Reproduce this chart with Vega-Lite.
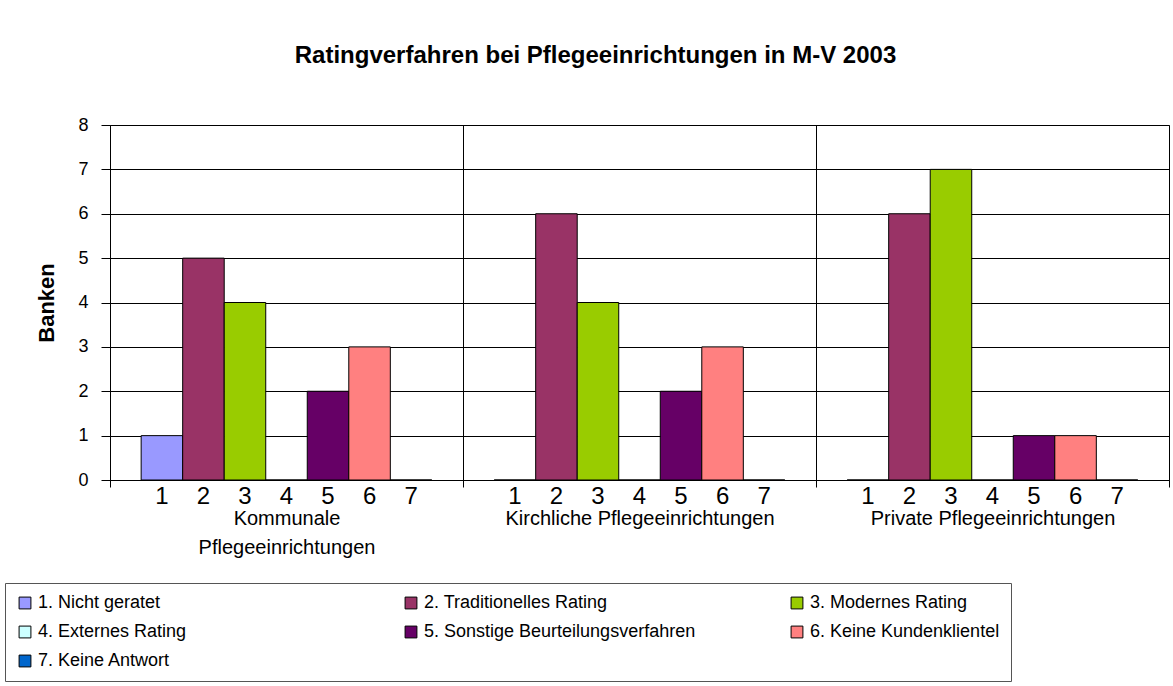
{
  "$schema": "https://vega.github.io/schema/vega-lite/v6.json",
  "width": 1059,
  "height": 355,
  "autosize": "none",
  "padding": {"left": 110, "top": 125, "right": 4, "bottom": 206},
  "background": "white",
  "title": {
    "text": "Ratingverfahren bei Pflegeeinrichtungen in M-V 2003",
    "fontSize": 24,
    "fontWeight": "bold",
    "font": "Liberation Sans",
    "anchor": "middle",
    "offset": 48,
    "dx": -44,
    "color": "black"
  },
  "data": {
    "values": [
      {"Gruppe": "Kommunale Pflegeeinrichtungen", "Nr": 1, "Kategorie": "1. Nicht geratet", "Anzahl": 1},
      {"Gruppe": "Kommunale Pflegeeinrichtungen", "Nr": 2, "Kategorie": "2. Traditionelles Rating", "Anzahl": 5},
      {"Gruppe": "Kommunale Pflegeeinrichtungen", "Nr": 3, "Kategorie": "3. Modernes Rating", "Anzahl": 4},
      {"Gruppe": "Kommunale Pflegeeinrichtungen", "Nr": 4, "Kategorie": "4. Externes Rating", "Anzahl": 0},
      {"Gruppe": "Kommunale Pflegeeinrichtungen", "Nr": 5, "Kategorie": "5. Sonstige Beurteilungsverfahren", "Anzahl": 2},
      {"Gruppe": "Kommunale Pflegeeinrichtungen", "Nr": 6, "Kategorie": "6. Keine Kundenklientel", "Anzahl": 3},
      {"Gruppe": "Kommunale Pflegeeinrichtungen", "Nr": 7, "Kategorie": "7. Keine Antwort", "Anzahl": 0},
      {"Gruppe": "Kirchliche Pflegeeinrichtungen", "Nr": 1, "Kategorie": "1. Nicht geratet", "Anzahl": 0},
      {"Gruppe": "Kirchliche Pflegeeinrichtungen", "Nr": 2, "Kategorie": "2. Traditionelles Rating", "Anzahl": 6},
      {"Gruppe": "Kirchliche Pflegeeinrichtungen", "Nr": 3, "Kategorie": "3. Modernes Rating", "Anzahl": 4},
      {"Gruppe": "Kirchliche Pflegeeinrichtungen", "Nr": 4, "Kategorie": "4. Externes Rating", "Anzahl": 0},
      {"Gruppe": "Kirchliche Pflegeeinrichtungen", "Nr": 5, "Kategorie": "5. Sonstige Beurteilungsverfahren", "Anzahl": 2},
      {"Gruppe": "Kirchliche Pflegeeinrichtungen", "Nr": 6, "Kategorie": "6. Keine Kundenklientel", "Anzahl": 3},
      {"Gruppe": "Kirchliche Pflegeeinrichtungen", "Nr": 7, "Kategorie": "7. Keine Antwort", "Anzahl": 0},
      {"Gruppe": "Private Pflegeeinrichtungen", "Nr": 1, "Kategorie": "1. Nicht geratet", "Anzahl": 0},
      {"Gruppe": "Private Pflegeeinrichtungen", "Nr": 2, "Kategorie": "2. Traditionelles Rating", "Anzahl": 6},
      {"Gruppe": "Private Pflegeeinrichtungen", "Nr": 3, "Kategorie": "3. Modernes Rating", "Anzahl": 7},
      {"Gruppe": "Private Pflegeeinrichtungen", "Nr": 4, "Kategorie": "4. Externes Rating", "Anzahl": 0},
      {"Gruppe": "Private Pflegeeinrichtungen", "Nr": 5, "Kategorie": "5. Sonstige Beurteilungsverfahren", "Anzahl": 1},
      {"Gruppe": "Private Pflegeeinrichtungen", "Nr": 6, "Kategorie": "6. Keine Kundenklientel", "Anzahl": 1},
      {"Gruppe": "Private Pflegeeinrichtungen", "Nr": 7, "Kategorie": "7. Keine Antwort", "Anzahl": 0}
    ]
  },
  "encoding": {
    "x": {
      "field": "Gruppe",
      "type": "nominal",
      "sort": ["Kommunale Pflegeeinrichtungen", "Kirchliche Pflegeeinrichtungen", "Private Pflegeeinrichtungen"],
      "scale": {"paddingInner": 0, "paddingOuter": 0},
      "axis": {
        "title": null,
        "orient": "bottom",
        "tickBand": "extent",
        "ticks": true,
        "tickSize": 7,
        "tickColor": "black",
        "domain": true,
        "domainColor": "black",
        "grid": true,
        "gridColor": "black",
        "labelAngle": 0,
        "labelFontSize": 20,
        "labelColor": "black",
        "labelBaseline": "alphabetic",
        "labelPadding": 37,
        "labelLineHeight": 29,
        "labelLimit": 500,
        "labelExpr": "datum.label == 'Kommunale Pflegeeinrichtungen' ? ['Kommunale', 'Pflegeeinrichtungen'] : datum.label"
      }
    },
    "xOffset": {
      "field": "Nr",
      "type": "ordinal",
      "scale": {"paddingInner": 0, "paddingOuter": 0.75}
    }
  },
  "layer": [
    {
      "mark": {"type": "bar", "stroke": "black", "strokeWidth": 1},
      "encoding": {
        "y": {
          "field": "Anzahl",
          "type": "quantitative",
          "scale": {"domain": [0, 8], "nice": false},
          "axis": {
            "title": "Banken",
            "values": [0, 1, 2, 3, 4, 5, 6, 7, 8],
            "domain": true,
            "domainColor": "black",
            "ticks": true,
            "tickSize": 9,
            "tickColor": "black",
            "grid": true,
            "gridColor": "black",
            "labelFontSize": 18,
            "labelColor": "black",
            "labelPadding": 13,
            "titleFontSize": 22,
            "titleFontWeight": "bold",
            "titleColor": "black",
            "titlePadding": 19
          }
        },
        "color": {
          "field": "Kategorie",
          "type": "nominal",
          "scale": {
            "domain": ["1. Nicht geratet", "2. Traditionelles Rating", "3. Modernes Rating", "4. Externes Rating", "5. Sonstige Beurteilungsverfahren", "6. Keine Kundenklientel", "7. Keine Antwort"],
            "range": ["#9999FF", "#993366", "#99CC00", "#CCFFFF", "#660066", "#FF8080", "#0066CC"]
          },
          "legend": {
            "title": null,
            "orient": "none",
            "direction": "horizontal",
            "legendX": -105,
            "legendY": 458,
            "columns": 3,
            "gridAlign": "all",
            "columnPadding": 92,
            "rowPadding": 11,
            "padding": 11,
            "strokeColor": "#555555",
            "labelFontSize": 18,
            "labelColor": "black",
            "labelLimit": 500,
            "labelOffset": 4,
            "symbolType": "square",
            "symbolSize": 140,
            "symbolStrokeColor": "black",
            "symbolStrokeWidth": 1,
            "symbolOpacity": 1
          }
        }
      }
    },
    {
      "mark": {"type": "text", "fontSize": 24, "baseline": "alphabetic", "dy": 24, "color": "black"},
      "encoding": {
        "y": {"datum": 0, "type": "quantitative", "axis": {"title": "Banken"}},
        "text": {"field": "Nr", "type": "ordinal"}
      }
    }
  ],
  "config": {
    "font": "Liberation Sans",
    "view": {"stroke": "#808080"},
    "axis": {"labelFont": "Liberation Sans", "titleFont": "Liberation Sans"},
    "legend": {"labelFont": "Liberation Sans"}
  }
}
